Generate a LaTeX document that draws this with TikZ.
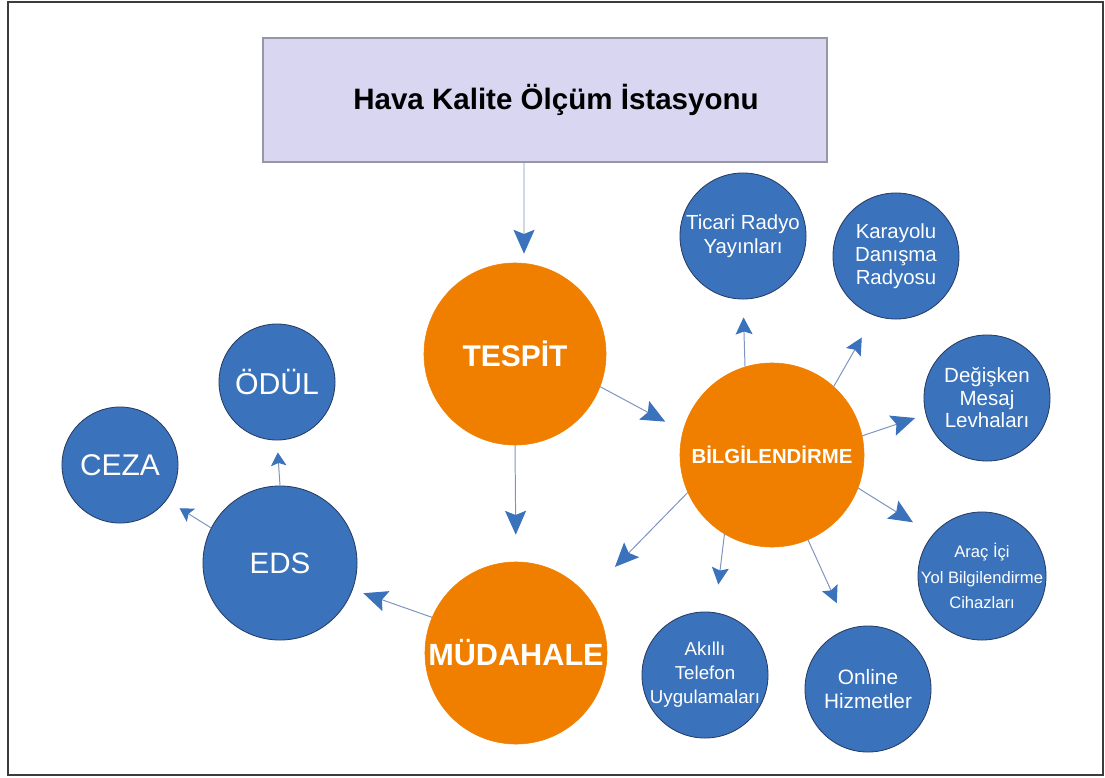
\documentclass[tikz,border=0pt]{standalone}
\usepackage{fontspec}
\setmainfont{Liberation Sans}
\usetikzlibrary{arrows.meta}

\definecolor{stationfill}{RGB}{217,214,242}
\definecolor{stationline}{RGB}{150,150,165}
\definecolor{mainorange}{RGB}{240,127,0}
\definecolor{subblue}{RGB}{58,114,187}
\definecolor{subline}{RGB}{40,60,100}
\definecolor{linkline}{RGB}{125,148,190}
\definecolor{framegray}{RGB}{60,60,60}

\begin{document}
\begin{tikzpicture}[x=0.025cm, y=-0.025cm,
    mainnode/.style={circle, fill=mainorange, draw=mainorange, inner sep=0pt, text=white, align=center},
    subnode/.style={circle, fill=subblue, draw=subline, line width=0.6pt, inner sep=-12pt, text=white, align=center},
    bigarrow/.style={draw=linkline, line width=0.7pt, -{Stealth[length=17pt, width=15pt, inset=3pt, color=subblue]}},
    midarrow/.style={draw=linkline, line width=0.7pt, -{Stealth[length=12pt, width=12pt, inset=2pt, color=subblue]}},
    smallarrow/.style={draw=linkline, line width=0.7pt, -{Stealth[length=9.5pt, width=11pt, inset=2pt, color=subblue]}}]

    % Frame
    \useasboundingbox (0,0) rectangle (1105,777);
    \draw[framegray, line width=1.4pt] (8,2) rectangle (1103,775);

    % Station box
    \node[draw=stationline, fill=stationfill, line width=1pt, minimum width=14.1cm, minimum height=3.1cm,
          font=\bfseries\fontsize{21}{25}\selectfont] (station) at (545,100) {\hspace*{0.55cm}Hava Kalite Ölçüm İstasyonu};

    % Main circles
    \node[mainnode, minimum size=4.55cm, font=\bfseries\fontsize{21.3}{25}\selectfont] (tespit) at (515,354) {TESPİT};
    \node[mainnode, minimum size=4.6cm, font=\bfseries\fontsize{14.5}{17}\selectfont] (bilgi) at (772,455) {BİLGİLENDİRME};
    \node[mainnode, minimum size=4.55cm, font=\bfseries\fontsize{21.8}{25}\selectfont] (mudahale) at (516,653) {MÜDAHALE};

    % Left circles
    \node[subnode, minimum size=3.85cm, font=\fontsize{21}{25}\selectfont] (eds) at (280,563) {EDS};
    \node[subnode, minimum size=2.9cm, font=\fontsize{21.5}{25}\selectfont] (odul) at (277,382) {ÖDÜL};
    \node[subnode, minimum size=2.9cm, font=\fontsize{21.3}{25}\selectfont] (ceza) at (120,465) {CEZA};

    % Information circles
    \node[subnode, minimum size=3.15cm, font=\fontsize{14.5}{17}\selectfont] (ticari) at (743,236) {Ticari Radyo\\Yayınları};
    \node[subnode, minimum size=3.15cm, font=\fontsize{14.5}{16.5}\selectfont] (karayolu) at (896,256) {Karayolu\\Danışma\\Radyosu};
    \node[subnode, minimum size=3.15cm, font=\fontsize{14.6}{16}\selectfont] (degisken) at (987,398) {Değişken\\Mesaj\\Levhaları};
    \node[subnode, minimum size=3.2cm, font=\fontsize{11.8}{18}\selectfont] (arac) at (982,576) {Araç İçi\\Yol Bilgilendirme\\Cihazları};
    \node[subnode, minimum size=3.15cm, font=\fontsize{13.3}{17}\selectfont] (akilli) at (705,675) {Akıllı\\Telefon\\Uygulamaları};
    \node[subnode, minimum size=3.15cm, font=\fontsize{14.8}{16.5}\selectfont] (online) at (868,689) {Online\\Hizmetler};

    % Arrows
    \draw[bigarrow, shorten >=0.225cm] ([xshift=-0.525cm]station.south) -- ([xshift=0.225cm]tespit.north);
    \draw[bigarrow, shorten >=0.675cm] (tespit.south) -- (mudahale.north);
    \draw[bigarrow, shorten >=0.5cm] (tespit.339) -- (bilgi.165);
    \draw[bigarrow, shorten >=1cm] (bilgi.204) -- (mudahale.39);
    \draw[bigarrow, shorten >=0.28cm] (mudahale.157) -- (eds.340);
    \draw[smallarrow, shorten >=0.3cm] (eds.north) -- (odul.south);
    \draw[smallarrow, shorten >=0.38cm] (eds.153) -- (ceza.323);
    \draw[midarrow, shorten >=0.45cm] (bilgi.107) -- (ticari.south);
    \draw[midarrow, shorten >=0.63cm] (bilgi.48) -- (karayolu.250);
    \draw[bigarrow, shorten >=0.28cm] (bilgi.12) -- (degisken.195);
    \draw[bigarrow, shorten >=0.58cm] (bilgi.339) -- (arac.140);
    \draw[midarrow, shorten >=0.7cm] (bilgi.293) -- (online.108);
    \draw[midarrow, shorten >=0.7cm] (bilgi.239) -- (akilli.81);

\end{tikzpicture}
\end{document}
